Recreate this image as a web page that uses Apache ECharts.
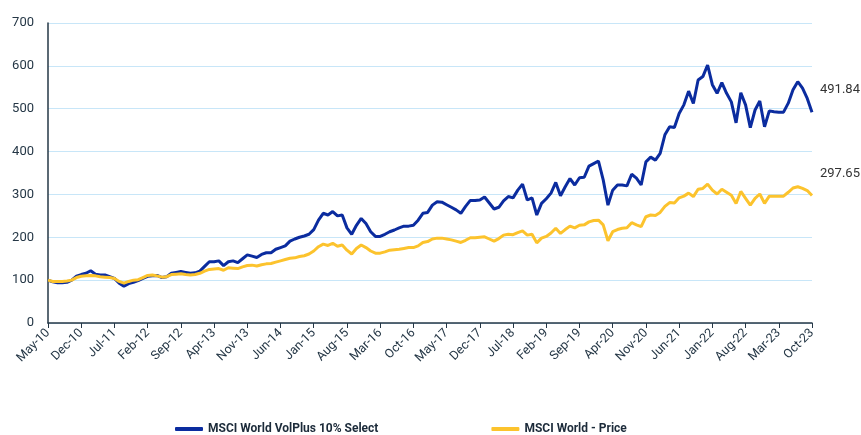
<!DOCTYPE html>
<html>
<head>
<meta charset="utf-8">
<script src="https://cdn.jsdelivr.net/npm/echarts@6/dist/echarts.min.js"></script>
<style>
  html, body { margin: 0; padding: 0; background: #fff; }
  #chart { width: 861px; height: 435px; }
</style>
</head>
<body>
<div id="chart"></div>
<script>
// monthly index levels, May-10 .. Oct-23 (rebased to 100)
var volPlus = [
  100, 96, 94, 94, 95, 100, 109, 113, 116, 122, 114, 112, 112, 108, 104, 93, 86, 92, 95, 99,
  104, 109, 110, 111, 106, 108, 116, 118, 120, 118, 116, 117, 121, 132, 143, 143, 145, 134, 143, 145,
  141, 150, 159, 156, 153, 160, 164, 164, 172, 176, 180, 191, 196, 200, 203, 207, 218, 240, 256, 252,
  260, 250, 252, 222, 207, 228, 244, 232, 213, 202, 202, 207, 213, 217, 222, 226, 226, 228, 240, 256,
  258, 275, 283, 282, 276, 270, 264, 256, 272, 286, 286, 287, 294, 280, 266, 270, 285, 295, 292, 310,
  324, 287, 292, 252, 279, 290, 303, 328, 297, 318, 337, 322, 339, 340, 366, 372, 378, 334, 275, 310,
  322, 322, 320, 347, 338, 322, 376, 387, 380, 396, 439, 458, 456, 489, 509, 541, 512, 567, 575, 602,
  556, 536, 561, 536, 516, 467, 537, 509, 456, 497, 518, 458, 495, 493, 492, 492, 513, 544, 563, 548,
  524, 491.84
];
var msciWorld = [
  100, 97, 97, 97, 98, 100, 106, 109, 110, 111, 110, 108, 107, 106, 104, 97, 93, 97, 100, 101,
  106, 111, 112, 110, 107, 108, 113, 114, 115, 113, 112, 113, 116, 121, 125, 126, 127, 123, 129, 128,
  127, 131, 134, 135, 133, 136, 138, 139, 142, 145, 148, 151, 152, 155, 157, 161, 168, 178, 184, 181,
  186, 179, 182, 170, 161, 174, 182, 176, 168, 163, 163, 166, 170, 171, 172, 174, 176, 176, 180, 188,
  190, 196, 198, 198, 196, 194, 191, 188, 193, 199, 199, 200, 201, 196, 191, 197, 205, 207, 206, 211,
  215, 205, 207, 187, 198, 202, 210, 221, 209, 218, 226, 222, 228, 229, 236, 239, 240, 229, 192, 213,
  218, 221, 222, 234, 229, 225, 248, 252, 251, 258, 272, 281, 280, 292, 296, 303, 295, 312, 314, 324,
  310, 301, 312, 305, 298, 279, 307, 291, 275, 291, 301, 279, 296, 296, 296, 296, 305, 315, 318, 314,
  309, 297.65
];
var seriesNames = ["MSCI World VolPlus 10% Select", "MSCI World - Price"];
var monthNames = ["Jan", "Feb", "Mar", "Apr", "May", "Jun", "Jul", "Aug", "Sep", "Oct", "Nov", "Dec"];

// category labels like "May-10"
var months = [];
for (var i = 0; i < volPlus.length; i++) {
  var m = (4 + i) % 12;
  var y = 10 + Math.floor((4 + i) / 12);
  months.push(monthNames[m] + "-" + y);
}

var textColor = "#253746";
var chart = echarts.init(document.getElementById("chart"));
chart.setOption({
  animation: false,
  textStyle: { fontFamily: "Roboto" },
  grid: { left: 48, right: 49, top: 23, bottom: 112 },
  legend: {
    data: seriesNames,
    left: 170,
    top: 418,
    itemGap: 113,
    itemWidth: 28,
    itemHeight: 4,
    icon: "roundRect",
    textStyle: { fontSize: 12, fontWeight: "bold", color: "#1c2b3a", fontFamily: "Roboto" }
  },
  xAxis: {
    type: "category",
    data: months,
    boundaryGap: false,
    axisLine: { lineStyle: { color: textColor, width: 1.5 } },
    axisTick: { interval: 6, length: 5, lineStyle: { color: textColor } },
    axisLabel: { interval: 6, rotate: 45, fontSize: 12.5, color: textColor, margin: 8 },
    splitLine: { show: false }
  },
  yAxis: {
    type: "value",
    min: 0,
    max: 700,
    interval: 100,
    axisLine: { show: true, lineStyle: { color: textColor, width: 1.5 } },
    axisTick: { show: false },
    axisLabel: { fontSize: 13, color: textColor, margin: 14 },
    splitLine: { lineStyle: { color: "#c8e6f8", width: 1 } }
  },
  series: [
    {
      name: seriesNames[0],
      type: "line",
      data: volPlus,
      symbol: "none",
      lineStyle: { color: "#0b2c9f", width: 3 },
      itemStyle: { color: "#0b2c9f" },
      endLabel: {
        show: true,
        formatter: function (p) { return p.value.toFixed(2); },
        offset: [0, -22],
        fontSize: 13,
        color: "#333"
      }
    },
    {
      name: seriesNames[1],
      type: "line",
      data: msciWorld,
      symbol: "none",
      lineStyle: { color: "#fcc32d", width: 3 },
      itemStyle: { color: "#fcc32d" },
      endLabel: {
        show: true,
        formatter: function (p) { return p.value.toFixed(2); },
        offset: [0, -22],
        fontSize: 13,
        color: "#333"
      }
    }
  ]
});
</script>
</body>
</html>
